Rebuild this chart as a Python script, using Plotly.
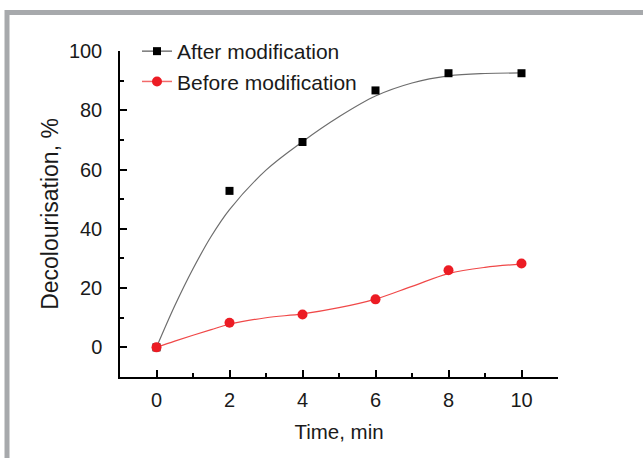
import plotly.graph_objects as go

# Measured points
time_min = [0, 2, 4, 6, 8, 10]
after_mod = [0, 52.8, 69.3, 86.7, 92.5, 92.5]
before_mod = [0, 8.3, 11.1, 16.2, 26.0, 28.3]

# Fitted curves
fit_time = [0, 0.5, 1, 1.5, 2, 3, 4, 5, 6, 7, 8, 9, 10]
after_fit = [0, 14, 26.5, 37.5, 46.5, 59.8, 69.4, 77.8, 84.8, 89.2, 91.6, 92.4, 92.6]
before_fit = [0, 2.1, 4.1, 6.0, 7.8, 10.0, 11.3, 13.4, 16.3, 20.6, 24.9, 27.0, 28.1]

x_ticks = [0, 2, 4, 6, 8, 10]
y_ticks = [0, 20, 40, 60, 80, 100]

FONT = "Liberation Sans, Arial, sans-serif"
W, H = 643, 458
L, R, T, B = 120, 85, 51, 81
PW, PH = W - L - R, H - T - B


def px2paper_x(px):
    return (px - L) / PW


def px2paper_y(py):
    return (H - B - py) / PH


def gapped(vals):
    out = []
    for v in vals:
        out += [v, None]
    return out[:-1]


fig = go.Figure()

# fitted curves
fig.add_trace(go.Scatter(x=fit_time, y=after_fit, mode="lines", line=dict(color="#6d6d6d", width=1.2, shape="spline", smoothing=1.0),
                         showlegend=False, hoverinfo="skip"))
fig.add_trace(go.Scatter(x=fit_time, y=before_fit, mode="lines", line=dict(color="#f04848", width=1.2, shape="spline", smoothing=1.0),
                         showlegend=False, hoverinfo="skip"))

# measured points (gaps so that no connecting line is drawn, legend shows line+marker)
fig.add_trace(go.Scatter(x=gapped(time_min), y=gapped(after_mod), mode="lines+markers", name="After modification",
                         connectgaps=False,
                         line=dict(color="#777777", width=1.5),
                         marker=dict(symbol="square", size=8, color="#000000"), cliponaxis=False))
fig.add_trace(go.Scatter(x=gapped(time_min), y=gapped(before_mod), mode="lines+markers", name="Before modification",
                         connectgaps=False,
                         line=dict(color="#f26a6a", width=1.5),
                         marker=dict(symbol="circle", size=10, color="#ec1c24"), cliponaxis=False))

axis_common = dict(showgrid=False, zeroline=False, showline=True, linecolor="#000000", linewidth=1.5,
                   ticks="inside", ticklen=7, tickwidth=1.5, tickcolor="#000000",
                   tickfont=dict(family=FONT, size=20, color="#1a1a1a"), mirror=False, automargin=False)

fig.update_xaxes(range=[-1, 11], tickvals=x_ticks, ticktext=[str(v) for v in x_ticks],
                 minor=dict(ticks="inside", ticklen=4, tickwidth=1.5, tickcolor="#000000", dtick=1, tick0=0),
                 ticklabelstandoff=4,
                 title=dict(text="Time, min", font=dict(family=FONT, size=20.5, color="#1a1a1a"), standoff=15),
                 **axis_common)
fig.update_yaxes(range=[-10, 100], tickvals=y_ticks, ticktext=[str(v) for v in y_ticks],
                 minor=dict(ticks="inside", ticklen=4, tickwidth=1.5, tickcolor="#000000", dtick=10, tick0=0),
                 ticklabelstandoff=12,
                 title=dict(text="Decolourisation, %", font=dict(family=FONT, size=23, color="#1a1a1a"), standoff=4),
                 **axis_common)

# grey frame (top and left edges)
fig.add_shape(type="line", xref="paper", yref="paper",
              x0=px2paper_x(5), x1=px2paper_x(650), y0=px2paper_y(12.5), y1=px2paper_y(12.5),
              line=dict(color="#a7a9ac", width=5))
fig.add_shape(type="line", xref="paper", yref="paper",
              x0=px2paper_x(7), x1=px2paper_x(7), y0=px2paper_y(10), y1=px2paper_y(470),
              line=dict(color="#a7a9ac", width=5))

fig.update_layout(
    width=W, height=H,
    margin=dict(l=L, r=R, t=T, b=B, autoexpand=False),
    paper_bgcolor="#ffffff", plot_bgcolor="#ffffff",
    font=dict(family=FONT, color="#1a1a1a"),
    legend=dict(x=px2paper_x(137), y=px2paper_y(31), xanchor="left", yanchor="top",
                font=dict(family=FONT, size=21, color="#1a1a1a"),
                bgcolor="rgba(0,0,0,0)", tracegroupgap=0, itemwidth=30),
)

fig.write_html("out.html", config={"displayModeBar": False},
               post_script="document.body.style.margin='0px';")
